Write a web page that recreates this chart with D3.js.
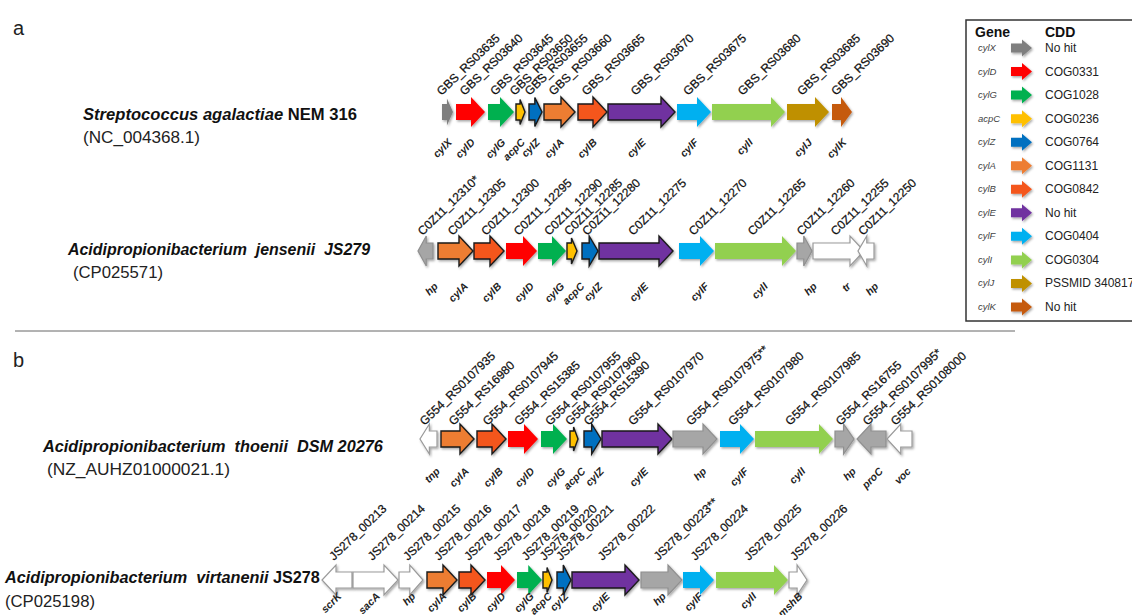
<!DOCTYPE html>
<html>
<head>
<meta charset="utf-8">
<script src="https://cdn.jsdelivr.net/npm/d3@7"></script>
<style>
body { margin: 0; background: #fff; }
svg { display: block; }
</style>
</head>
<body>
<svg id="fig" width="1132" height="615"></svg>
<script>
"use strict";

// legend: gene, CDD hit, colour
var legendGenes = ["cylX","cylD","cylG","acpC","cylZ","cylA","cylB","cylE","cylF","cylI","cylJ","cylK"];
var legendCDD = ["No hit","COG0331","COG1028","COG0236","COG0764","COG1131","COG0842","No hit","COG0404","COG0304","PSSMID 340817","No hit"];
var legendColors = ["#7f7f7f","#ff0000","#00b050","#ffc000","#0070c0","#ed7d31","#f4561d","#7030a0","#00b0f0","#92d050","#bf9000","#c55a11"];

// a) S. agalactiae NEM 316 (track units)
var a1Names  = ["cylX","cylD","cylG","acpC","cylZ","cylA","cylB","cylE","cylF","cylI","cylJ","cylK"];
var a1Tags   = ["GBS_RS03635","GBS_RS03640","GBS_RS03645","GBS_RS03650","GBS_RS03655","GBS_RS03660","GBS_RS03665","GBS_RS03670","GBS_RS03675","GBS_RS03680","GBS_RS03685","GBS_RS03690"];
var a1Start  = [442,456,488,516,529,544,578,608,677,712,787,832];
var a1End    = [453,485,514,525,542,575,607,675,711,785,829,852];
var a1Strand = [1,1,1,1,1,1,1,1,1,1,1,1];
var a1Kind   = ["cyl","cyl","cyl","cyl","cyl","cyl","cyl","cyl","cyl","cyl","cyl","cyl"];

// a) A. jensenii JS279
var a2Names  = ["hp","cylA","cylB","cylD","cylG","acpC","cylZ","cylE","cylF","cylI","hp","tr","hp"];
var a2Tags   = ["C0Z11_12310*","C0Z11_12305","C0Z11_12300","C0Z11_12295","C0Z11_12290","C0Z11_12285","C0Z11_12280","C0Z11_12275","C0Z11_12270","C0Z11_12265","C0Z11_12260","C0Z11_12255","C0Z11_12250"];
var a2Start  = [418,438,474,506,538,567,582,599,679,715,797,813,858];
var a2End    = [433,473,504,537,566,577,598,673,714,796,812,864,874];
var a2Strand = [-1,1,1,1,1,1,1,1,1,1,1,1,-1];
var a2Kind   = ["grey","cyl","cyl","cyl","cyl","cyl","cyl","cyl","cyl","cyl","grey","white","white"];

// b) A. thoenii DSM 20276
var b1Names  = ["tnp","cylA","cylB","cylD","cylG","acpC","cylZ","cylE","hp","cylF","cylI","hp","proC","voc"];
var b1Tags   = ["G554_RS0107935","G554_RS16980","G554_RS0107945","G554_RS15385","G554_RS0107955","G554_RS0107960","G554_RS15390","G554_RS0107970","G554_RS0107975**","G554_RS0107980","G554_RS0107985","G554_RS16755","G554_RS0107995*","G554_RS0108000"];
var b1Start  = [420,441,477,508,541,570,584,602,673,720,755,835,857,887];
var b1End    = [437,474,506,538,567,578,601,672,717,754,833,854,886,912];
var b1Strand = [-1,1,1,1,1,1,1,1,1,1,1,1,-1,-1];
var b1Kind   = ["white","cyl","cyl","cyl","cyl","cyl","cyl","cyl","grey","cyl","cyl","grey","grey","white"];

// b) A. virtanenii JS278
var b2Names  = ["scrK","sacA","hp","cylA","cylB","cylD","cylG","acpC","cylZ","cylE","hp","cylF","cylI","mshB"];
var b2Tags   = ["JS278_00213","JS278_00214","JS278_00215","JS278_00216","JS278_00217","JS278_00218","JS278_00219","JS278_00220","JS278_00221","JS278_00222","JS278_00223**","JS278_00224","JS278_00225","JS278_00226"];
var b2Start  = [322,353,399,427,459,487,517,543,557,572,641,683,716,789];
var b2End    = [352,398,423,457,485,515,542,552,571,639,682,714,788,807];
var b2Strand = [-1,1,1,1,1,1,1,1,1,1,1,1,1,1];
var b2Kind   = ["white","white","white","cyl","cyl","cyl","cyl","cyl","cyl","cyl","grey","cyl","cyl","white"];

var outlined = ["cylA","cylB","acpC","cylZ","cylE"];

var svg = d3.select("#fig");
var x = d3.scaleLinear().domain([0, 1132]).range([0, 1132]);
var color = d3.scaleOrdinal().domain(legendGenes).range(legendColors);
var FONT = "Liberation Sans, Arial, sans-serif";

var defs = svg.append("defs");
var f = defs.append("filter").attr("id","shadow")
	.attr("x","-20%").attr("y","-30%").attr("width","150%").attr("height","170%");
f.append("feDropShadow").attr("dx",1.2).attr("dy",1.5).attr("stdDeviation",1.2)
	.attr("flood-color","#000").attr("flood-opacity",0.35);

function arrowPath(x0, x1, cy, strand, b, hmax, hlmax) {
	var len = x1 - x0;
	var hl = Math.min(hlmax, len*0.55);
	var h = Math.min(hmax, b + hl*0.9);
	var p;
	if (strand > 0) {
		p = [[x0,cy-b],[x1-hl,cy-b],[x1-hl,cy-h],[x1,cy],[x1-hl,cy+h],[x1-hl,cy+b],[x0,cy+b]];
	} else {
		p = [[x1,cy-b],[x0+hl,cy-b],[x0+hl,cy-h],[x0,cy],[x0+hl,cy+h],[x0+hl,cy+b],[x1,cy+b]];
	}
	return "M" + p.map(function(d){ return d[0]+","+d[1]; }).join("L") + "Z";
}

function fillOf(name, kind) {
	if (kind == "grey") return "#a6a6a6";
	if (kind == "white") return "#ffffff";
	return color(name);
}
function strokeOf(name, kind) {
	if (kind == "grey") return "#8f8f8f";
	if (kind == "white") return "#9a9a9a";
	if (outlined.indexOf(name) >= 0) return "#1a1a1a";
	return "none";
}

var rows = [
	{names:a1Names, tags:a1Tags, start:a1Start, end:a1End, strand:a1Strand, kind:a1Kind, cy:112, tagDx:-6, tagDy:-16, nameDx:5, nameDy:31},
	{names:a2Names, tags:a2Tags, start:a2Start, end:a2End, strand:a2Strand, kind:a2Kind, cy:251, tagDx:-3, tagDy:-15, nameDx:13, nameDy:36},
	{names:b1Names, tags:b1Tags, start:b1Start, end:b1End, strand:b1Strand, kind:b1Kind, cy:439, tagDx:-4, tagDy:-13, nameDx:12, nameDy:33},
	{names:b2Names, tags:b2Tags, start:b2Start, end:b2End, strand:b2Strand, kind:b2Kind, cy:580, tagDx:-3, tagDy:-19, nameDx:5, nameDy:17}
];

rows.forEach(function(r){
	var genes = r.names.map(function(n, i){
		return {name:n, tag:r.tags[i], s:r.start[i], e:r.end[i], strand:r.strand[i], kind:r.kind[i]};
	});
	var g = svg.append("g");
	g.selectAll("path.gene").data(genes).enter().append("path")
		.attr("class","gene")
		.attr("d", function(d){ return arrowPath(x(d.s), x(d.e), r.cy, d.strand, 8, 15, 14); })
		.attr("fill", function(d){ return fillOf(d.name, d.kind); })
		.attr("stroke", function(d){ return strokeOf(d.name, d.kind); })
		.attr("stroke-width", function(d){ return d.kind == "cyl" ? 1.4 : 1.2; })
		.attr("stroke-linejoin","miter")
		.attr("filter","url(#shadow)");

	g.selectAll("text.tag").data(genes).enter().append("text")
		.attr("class","tag")
		.attr("transform", function(d){
			var cx = (x(d.s)+x(d.e))/2 + r.tagDx;
			return "translate("+cx+","+(r.cy+r.tagDy)+") rotate(-44)";
		})
		.style("font-family",FONT)
		.style("font-size","12px")
		.attr("fill","#111")
		.attr("stroke","#111").attr("stroke-width",0.25)
		.text(function(d){ return d.tag; });

	g.selectAll("text.gname").data(genes).enter().append("text")
		.attr("class","gname")
		.attr("transform", function(d){
			var cx = (x(d.s)+x(d.e))/2 + r.nameDx;
			return "translate("+cx+","+(r.cy+r.nameDy)+") rotate(-45)";
		})
		.attr("text-anchor","end")
		.style("font-family",FONT)
		.style("font-size","10.5px")
		.style("font-weight","bold")
		.style("font-style","italic")
		.attr("fill","#222")
		.text(function(d){ return d.name; });
});

// organism labels (widths fitted to the figure)
var orgs = [
	{x:83, y:120, w:274, parts:[["Streptococcus agalactiae", true], [" NEM 316", false]], acc:"(NC_004368.1)", ax:83, ay:143, aw:117},
	{x:68, y:255, w:302, parts:[["Acidipropionibacterium  jensenii  JS279", true]], acc:"(CP025571)", ax:73, ay:278, aw:90},
	{x:43, y:452, w:340, parts:[["Acidipropionibacterium  thoenii  DSM 20276", true]], acc:"(NZ_AUHZ01000021.1)", ax:47, ay:475, aw:183},
	{x:5, y:583, w:315, parts:[["Acidipropionibacterium  virtanenii", true], [" JS278", false]], acc:"(CP025198)", ax:5, ay:607, aw:90}
];
function fitText(t, size, target) {
	var w = t.node().getComputedTextLength();
	t.style("font-size", (size*target/w).toFixed(2)+"px");
}
orgs.forEach(function(o){
	var t = svg.append("text")
		.attr("x", o.x).attr("y", o.y)
		.style("font-family",FONT)
		.style("font-size","16px")
		.style("font-weight","bold")
		.style("white-space","pre")
		.attr("fill","#111");
	o.parts.forEach(function(p){
		t.append("tspan").style("font-style", p[1] ? "italic" : "normal").text(p[0]);
	});
	fitText(t, 16, o.w);
	var a = svg.append("text")
		.attr("x", o.ax).attr("y", o.ay)
		.style("font-family",FONT)
		.style("font-size","16px")
		.attr("fill","#222")
		.text(o.acc);
	fitText(a, 16, o.aw);
});

// panel letters and separator
svg.append("text").attr("x",13).attr("y",35).style("font-family",FONT)
	.style("font-size","20px").attr("fill","#222").text("a");
svg.append("text").attr("x",13).attr("y",367).style("font-family",FONT)
	.style("font-size","20px").attr("fill","#222").text("b");
svg.append("line").attr("x1",15).attr("x2",1015).attr("y1",331).attr("y2",331)
	.attr("stroke","#666").attr("stroke-width",1);

// legend
var lg = svg.append("g");
lg.append("rect").attr("x",966).attr("y",20).attr("width",200).attr("height",301)
	.attr("fill","#fff").attr("stroke","#333").attr("stroke-width",1.5);
lg.append("text").attr("x",975).attr("y",37).style("font-family",FONT)
	.style("font-size","14px").style("font-weight","bold").attr("fill","#111").text("Gene");
lg.append("text").attr("x",1045).attr("y",37).style("font-family",FONT)
	.style("font-size","14px").style("font-weight","bold").attr("fill","#111").text("CDD");

var ly = d3.scalePoint().domain(legendGenes).range([48, 307]);
var items = lg.selectAll("g.item").data(legendGenes).enter().append("g").attr("class","item");
items.append("text")
	.attr("x",978).attr("y", function(d){ return ly(d)+3; })
	.style("font-family",FONT)
	.style("font-size","9.5px").style("font-style","italic")
	.attr("fill","#444")
	.text(function(d){ return d; });
items.append("path")
	.attr("d", function(d){ return arrowPath(1011, 1032, ly(d), 1, 4.5, 8.5, 10); })
	.attr("fill", function(d){ return color(d); })
	.attr("filter","url(#shadow)");
items.append("text")
	.attr("x",1045).attr("y", function(d){ return ly(d)+4; })
	.style("font-family",FONT)
	.style("font-size","12px")
	.attr("fill","#222")
	.text(function(d, i){ return legendCDD[i]; });
</script>
</body>
</html>
